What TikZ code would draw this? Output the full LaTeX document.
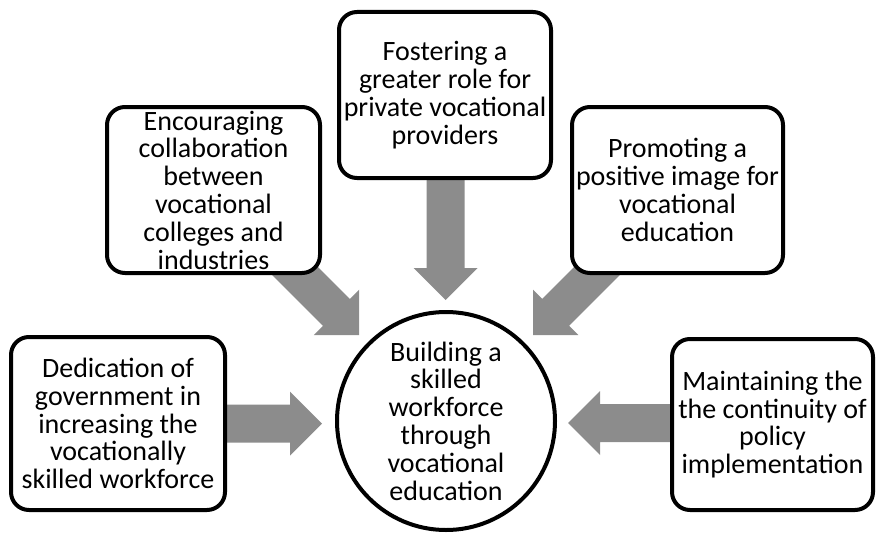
\documentclass[tikz,border=0pt]{standalone}
\usepackage{fontspec}
\setmainfont{Carlito}
\usetikzlibrary{calc,backgrounds}
\definecolor{arrowgray}{HTML}{8C8C8C}
\tikzset{
  boxnode/.style={draw=black, line width=4pt, rounded corners=18pt, fill=white,
    align=center, inner sep=0pt, font=\fontsize{28}{27.8}\selectfont},
  circnode/.style={draw=black, line width=4pt, circle, fill=white, align=center,
    inner sep=0pt, minimum size=218pt, font=\fontsize{28}{27.8}\selectfont},
}
\newcommand\blkarrow[2]{%
  \coordinate (ab) at ($(#2)!32pt!(#1)$);
  \fill[arrowgray] ($(#1)!19pt!90:(#2)$) -- ($(ab)!19pt!-90:(#1)$) -- ($(ab)!32pt!-90:(#1)$)
    -- (#2) -- ($(ab)!32pt!90:(#1)$) -- ($(ab)!19pt!90:(#1)$) -- ($(#1)!19pt!-90:(#2)$) -- cycle;}
\begin{document}
\begin{tikzpicture}[x=1pt,y=-1pt]
\useasboundingbox (0,0) rectangle (877,535);
\node[circnode] (C) at (446,421) {Building a\\skilled\\workforce\\through\\vocational\\education};
\node[boxnode, minimum width=214pt, minimum height=173pt] (L) at (118,423.5)
  {Dedication of\\government in\\increasing the\\vocationally\\skilled workforce};
\node[boxnode, minimum width=213pt, minimum height=166pt] (UL) at (213.5,190)
  {Encouraging\\collaboration\\between\\vocational\\colleges and\\industries};
\node[boxnode, minimum width=212pt, minimum height=166pt] (T) at (445,95)
  {Fostering a\\greater role for\\private vocational\\providers};
\node[boxnode, minimum width=211pt, minimum height=166pt] (UR) at (677.5,190)
  {Promoting a\\positive image for\\vocational\\education};
\node[boxnode, minimum width=201pt, minimum height=171pt] (R) at (772.5,424.5)
  {Maintaining the\\the continuity of\\policy\\implementation};
\coordinate (tL) at (322,423.5);
\coordinate (sL) at (215,423.5);
\coordinate (tR) at (568,423);
\coordinate (sR) at (682,423);
\coordinate (tT) at (445.5,300);
\coordinate (sT) at (445.5,168);
\coordinate (tUL) at (359,335);
\coordinate (sUL) at (280,256);
\coordinate (tUR) at (533,335);
\coordinate (sUR) at (612,256);
\begin{pgfonlayer}{background}
\blkarrow{sL}{tL}
\blkarrow{sR}{tR}
\blkarrow{sT}{tT}
\blkarrow{sUL}{tUL}
\blkarrow{sUR}{tUR}
\end{pgfonlayer}
\end{tikzpicture}
\end{document}
